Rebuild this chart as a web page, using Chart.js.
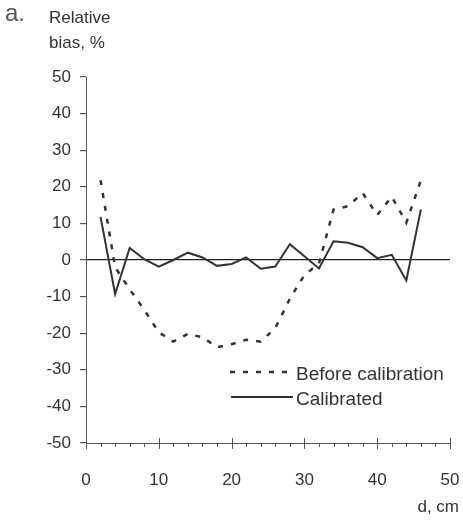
<!DOCTYPE html>
<html>
<head>
<meta charset="utf-8">
<script src="https://cdn.jsdelivr.net/npm/chart.js@4/dist/chart.umd.min.js"></script>
<style>
  html, body { margin: 0; padding: 0; background: #fff; }
  #wrap { width: 463px; height: 521px; position: relative; }
</style>
</head>
<body>
<div id="wrap"><canvas id="bias-chart"></canvas></div>
<script>
// distance, cm
const depths = [2, 4, 6, 8, 10, 12, 14, 16, 18, 20, 22, 24, 26, 28, 30, 32, 34, 36, 38, 40, 42, 44, 46];
// relative bias, %
const beforeCalibration = [21.8, -2, -8, -13.6, -19.8, -22.3, -20.2, -21.1, -23.8, -23, -21.8, -22.3, -18.6, -10.6, -4.1, -1, 13.8, 14.7, 18.3, 12.3, 17.3, 10.2, 21.8];
const calibrated = [11.8, -9.3, 3.3, 0.2, -1.8, 0, 2, 0.7, -1.6, -1.1, 0.7, -2.4, -1.8, 4.3, 1, -2.3, 5.1, 4.7, 3.5, 0.5, 1.4, -5.6, 13.8];
const seriesNames = ["Before calibration", "Calibrated"];
const xTicks = [0, 10, 20, 30, 40, 50];
const yTicks = [-50, -40, -30, -20, -10, 0, 10, 20, 30, 40, 50];

const FONT = "'Liberation Sans', Arial, sans-serif";
const INK = '#333';

function toPoints(xs, ys) {
    return xs.map((x, i) => ({x: x, y: ys[i]}));
}

// x tick marks: major cross the axis, minor hang below
const xTickMarks = {
    id: 'xTickMarks',
    afterDraw(chart) {
        const ctx = chart.ctx;
        const xs = chart.scales.x;
        const y0 = chart.chartArea.bottom;
        ctx.save();
        ctx.strokeStyle = '#555';
        ctx.lineWidth = 1;
        for (let v = xs.min; v <= xs.max; v += 2) {
            const px = Math.round(xs.getPixelForValue(v)) + 0.5;
            const major = xTicks.includes(v);
            ctx.beginPath();
            ctx.moveTo(px, major ? y0 - 5 : y0);
            ctx.lineTo(px, major ? y0 + 6 : y0 + 4);
            ctx.stroke();
        }
        ctx.restore();
    }
};

// labels and the legend
const annotations = {
    id: 'annotations',
    afterDraw(chart) {
        const ctx = chart.ctx;
        ctx.save();
        ctx.textBaseline = 'alphabetic';
        ctx.textAlign = 'left';
        ctx.fillStyle = '#555';
        ctx.font = '24px ' + FONT;
        ctx.fillText('a.', 5, 21);
        ctx.fillStyle = INK;
        ctx.font = '17px ' + FONT;
        ctx.fillText('Relative', 49, 23);
        ctx.fillText('bias, %', 49, 48);
        ctx.textAlign = 'right';
        ctx.fillText('d, cm', 459, 512);

        // legend
        ctx.textAlign = 'left';
        ctx.font = '19px ' + FONT;
        ctx.strokeStyle = INK;
        ctx.lineWidth = 2.5;
        ctx.setLineDash([5, 8]);
        ctx.beginPath();
        ctx.moveTo(230, 372);
        ctx.lineTo(294, 372);
        ctx.stroke();
        ctx.setLineDash([]);
        ctx.lineWidth = 2;
        ctx.beginPath();
        ctx.moveTo(231, 397);
        ctx.lineTo(293, 397);
        ctx.stroke();
        ctx.fillText(seriesNames[0], 296, 380);
        ctx.fillText(seriesNames[1], 296, 405);
        ctx.restore();
    }
};

function setupChart() {
    const ctx = document.getElementById('bias-chart');

    const config = {
        type: 'line',
        data: {
            datasets: [{
                label: seriesNames[0],
                data: toPoints(depths, beforeCalibration),
                borderColor: INK,
                borderWidth: 2.5,
                borderDash: [5, 8],
                pointRadius: 0,
                tension: 0
            }, {
                label: seriesNames[1],
                data: toPoints(depths, calibrated),
                borderColor: INK,
                borderWidth: 2,
                pointRadius: 0,
                tension: 0
            }]
        },
        options: {
            responsive: true,
            maintainAspectRatio: false,
            animation: false,
            layout: {
                padding: {top: 77, right: 13, left: 0, bottom: 0}
            },
            plugins: {
                legend: {display: false},
                tooltip: {enabled: false}
            },
            scales: {
                x: {
                    type: 'linear',
                    min: 0,
                    max: 50,
                    afterBuildTicks: (scale) => {
                        scale.ticks = xTicks.map(v => ({value: v}));
                    },
                    afterFit: (scale) => {
                        scale.height = 78;
                        scale.paddingLeft = 0;
                        scale.paddingRight = 0;
                    },
                    grid: {display: false},
                    border: {display: true, color: '#555', width: 1},
                    ticks: {
                        padding: 19,
                        color: INK,
                        font: {family: FONT, size: 17},
                        maxRotation: 0
                    }
                },
                y: {
                    min: -50,
                    max: 50,
                    afterBuildTicks: (scale) => {
                        scale.ticks = yTicks.map(v => ({value: v}));
                    },
                    afterFit: (scale) => {
                        scale.width = 86;
                        scale.paddingTop = 0;
                        scale.paddingBottom = 0;
                    },
                    grid: {
                        color: (c) => c.tick && c.tick.value === 0 ? '#222' : 'rgba(0,0,0,0)',
                        lineWidth: 1.2,
                        drawTicks: true,
                        tickLength: 6,
                        tickColor: '#555'
                    },
                    border: {display: true, color: '#555', width: 1},
                    ticks: {
                        padding: 9,
                        color: INK,
                        font: {family: FONT, size: 17}
                    }
                }
            }
        },
        plugins: [xTickMarks, annotations]
    };

    return new Chart(ctx, config);
}

window.addEventListener('DOMContentLoaded', () => {
    setupChart();
});
</script>
</body>
</html>
